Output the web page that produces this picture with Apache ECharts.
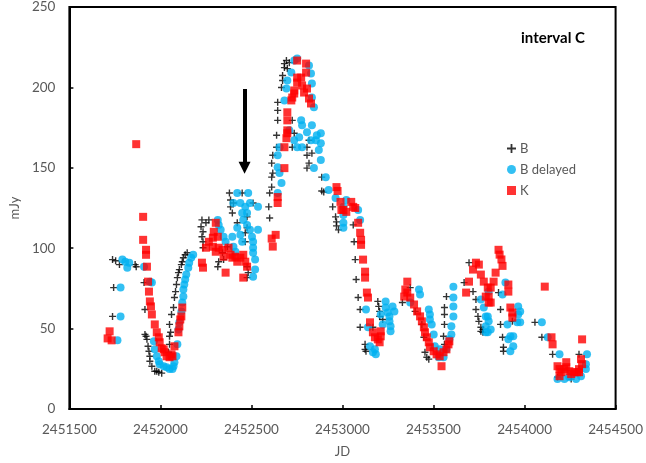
<!DOCTYPE html>
<html>
<head>
<meta charset="utf-8">
<script src="https://cdn.jsdelivr.net/npm/echarts@6/dist/echarts.min.js"></script>
<style>
  html, body { margin: 0; padding: 0; background: #fff; }
  #chart { width: 646px; height: 463px; }
</style>
</head>
<body>
<div id="chart"></div>
<script>
// Light curve, interval C: B band, B band shifted by the lag, and K band (mJy vs Julian Date)
const xTicks = { min: 2451500, max: 2454500, step: 500 };
const yTicks = { min: 0, max: 250, step: 50 };

const seriesNames = ['B', 'B delayed', 'K'];

// B band flux [JD, mJy]
const bData = [
  [2451737,92.9],[2451743,75.5],[2451737,57.6],[2451754,92.2],[2451775,89.8],[2451861,89.8],[2451867,88.5],
  [2451910,78.6],[2451915,61.9],[2451915,46.4],[2451921,45.2],[2451926,43.3],[2451932,39.0],[2451937,35.9],
  [2451942,32.8],[2451942,29.7],[2451953,26.6],[2451969,23.5],[2451980,23.5],[2451991,22.9],[2452007,22.3],
  [2452045,35.3],[2452050,40.2],[2452050,45.2],[2452056,47.7],[2452050,52.6],[2452061,58.8],[2452072,63.1],
  [2452077,69.3],[2452083,73.0],[2452088,77.4],[2452093,81.7],[2452099,84.8],[2452104,86.7],[2452115,89.8],
  [2452120,91.6],[2452126,94.1],[2452136,95.9],[2452147,97.2],
  [2452223,113.3],[2452228,117.6],[2452234,110.2],[2452228,107.1],[2452234,104.0],[2452234,100.3],
  [2452250,115.8],[2452266,117.6],
  [2452315,88.5],[2452320,91.6],[2452341,97.2],[2452347,92.9],[2452368,100.9],
  [2452379,134.3],[2452385,130.0],[2452385,125.7],[2452395,121.9],[2452401,128.1],[2452422,115.8],
  [2452449,134.3],[2452466,109.6],[2452466,104.0],[2452476,88.5],[2452482,84.8],[2452476,81.7],
  [2452509,128.1],[2452476,119.5],[2452476,112.7],
  [2452595,125.7],[2452600,118.8],[2452600,134.3],[2452611,138.0],[2452611,144.2],[2452617,146.7],
  [2452611,152.9],[2452617,157.8],[2452638,162.8],[2452638,170.2],[2452644,179.5],[2452644,185.7],
  [2452644,190.7],[2452665,199.9],[2452671,204.3],[2452671,207.4],[2452681,212.3],[2452681,214.8],
  [2452692,216.7],[2452697,211.7],[2452708,215.4],
  [2452724,179.5],[2452735,171.5],[2452724,162.8],[2452805,162.8],[2452816,167.1],[2452805,157.8],
  [2452816,152.9],[2452805,149.8],[2452832,159.1],[2452886,144.2],[2452897,134.9],[2452886,135.6],
  [2452946,125.7],[2452962,119.5],[2452967,116.4],[2452967,113.9],[2452978,111.4],
  [2453059,114.5],[2453064,104.0],[2453070,92.9],[2453075,80.5],[2453086,69.3],[2453097,61.9],
  [2453097,50.8],[2453124,40.2],[2453124,37.1],[2453129,35.9],
  [2453194,66.9],[2453199,63.8],[2453204,60.7],[2453204,57.6],[2453221,55.7],[2453167,50.8],
  [2453329,66.2],[2453372,75.5],
  [2453399,60.7],[2453436,52.6],[2453447,44.6],[2453453,35.3],[2453463,32.2],[2453474,31.0],
  [2453560,40.2],[2453555,45.2],[2453560,52.6],[2453560,58.8],[2453560,63.1],[2453571,69.9],
  [2453668,78.6],[2453695,91.0],[2453717,73.0],[2453733,68.1],[2453733,61.9],[2453744,57.6],
  [2453749,54.5],[2453760,50.8],[2453760,48.3],[2453771,49.5],[2453771,47.7],
  [2453857,72.4],[2453868,61.9],[2453868,52.6],[2453879,44.6],[2453884,38.4],[2453884,35.9],[2453933,54.5],
  [2454057,53.9],[2454095,44.6],[2454154,34.0],[2454181,19.8],[2454256,18.6],[2454299,34.0],[2454299,24.8]
];

// B band flux shifted by the lag [JD, mJy]
const bDelayedData = [
  [2451764,42.7],[2451781,57.6],[2451781,75.5],[2451791,92.9],[2451807,91.6],[2451818,87.9],[2451829,91.0],
  [2451910,88.5],
  [2451942,79.2],[2451953,78.6],[2451964,42.1],[2451969,37.1],[2451980,32.8],[2451991,29.7],[2451996,27.9],
  [2452018,26.6],[2452034,26.0],[2452050,24.8],[2452066,24.8],[2452072,26.6],[2452077,29.1],[2452088,32.8],
  [2452093,40.2],[2452099,49.5],
  [2452104,53.9],[2452115,60.7],[2452120,66.2],[2452126,69.9],[2452126,74.3],[2452131,77.4],[2452136,80.5],
  [2452142,83.6],[2452153,87.9],[2452158,91.0],[2452169,94.1],[2452180,95.9],
  [2452315,117.6],[2452320,114.5],[2452331,111.4],[2452347,107.1],[2452358,104.0],[2452395,107.1],
  [2452401,100.9],[2452412,97.8],
  [2452422,134.3],[2452482,134.3],[2452439,128.1],[2452466,125.7],[2452449,121.9],[2452476,121.9],
  [2452455,117.6],[2452476,114.5],[2452492,111.4],[2452503,107.1],[2452509,104.0],[2452509,100.3],
  [2452509,97.2],[2452520,92.9],[2452520,86.7],[2452509,82.3],[2452439,108.3],[2452449,104.0],
  [2452422,112.7],[2452401,128.1],[2452492,128.1],[2452536,125.7],[2452536,111.4],
  [2452644,157.8],[2452654,162.8],[2452644,150.4],[2452654,146.7],[2452665,140.5],[2452644,134.3],
  [2452681,191.9],[2452692,199.3],[2452697,204.3],[2452719,209.2],[2452735,216.7],[2452751,217.9],
  [2452816,213.6],[2452827,208.6],[2452832,202.4],[2452832,193.7],[2452843,187.6],[2452773,179.5],
  [2452778,176.4],[2452805,172.1],[2452827,167.1],[2452832,176.4],[2452859,170.2],[2452881,171.5],
  [2452881,165.3],[2452870,161.0],[2452881,154.8],[2452843,149.8],[2452854,167.1],[2452708,173.3],
  [2452735,167.1],[2452751,162.8],[2452778,162.8],[2452762,169.0],[2452908,144.2],[2452924,136.2],
  [2452962,131.2],[2453005,125.7],
  [2453005,120.7],[2453021,130.0],[2453005,115.8],[2453005,112.7],[2453086,123.8],[2453097,117.6],
  [2453129,61.9],[2453140,50.8],[2453151,39.0],[2453167,35.3],[2453183,34.0],[2453178,37.1],
  [2453237,66.9],[2453237,63.1],[2453248,60.0],[2453258,57.6],[2453258,54.5],[2453264,51.4],
  [2453264,48.3],[2453275,63.8],[2453285,60.7],[2453210,58.8],[2453221,52.6],[2453372,66.2],
  [2453420,74.3],[2453426,71.2],[2453474,61.9],[2453480,58.8],[2453480,55.7],[2453490,52.6],
  [2453501,46.4],[2453507,39.0],[2453534,37.1],[2453528,32.2],[2453555,32.2],[2453571,37.1],
  [2453587,43.3],[2453598,46.4],[2453598,51.4],[2453609,57.6],[2453609,63.8],[2453609,69.3],[2453609,76.1],
  [2453760,68.1],[2453776,63.1],[2453787,57.6],[2453787,51.4],[2453798,47.7],[2453803,73.0],
  [2453895,78.6],[2453879,71.2],[2453965,63.8],[2453976,60.7],[2453965,58.8],[2453976,53.9],
  [2453960,53.9],[2453906,52.6],[2453922,45.2],[2453938,45.2],[2453911,43.3],[2453938,39.0],
  [2453922,35.9],[2454095,53.9],[2454127,44.6],[2454192,34.0],[2454181,18.6],[2454219,18.6],
  [2454246,19.8],[2454283,18.6],[2454310,20.4],[2454337,24.8],[2454343,34.0],[2454337,27.9],
  [2453798,57.6],[2453803,54.5],[2453814,49.5],[2453787,47.7]
];

// K band flux [JD, mJy]
const kData = [
  [2451710,43.9],[2451721,48.3],[2451732,42.7],[2451867,164.7],[2451905,119.5],[2451905,105.2],
  [2451921,99.0],[2451921,95.9],[2451926,88.5],[2451932,79.2],[2451937,73.0],[2451942,66.9],
  [2451948,63.8],[2451953,58.8],[2451969,52.6],[2451980,47.7],[2451991,44.6],[2451996,41.5],
  [2452007,37.8],[2452018,37.1],[2452023,35.3],[2452034,32.8],[2452050,32.2],[2452061,34.0],
  [2452066,32.8],[2452077,39.0],[2452099,47.7],[2452104,51.4],[2452109,55.7],[2452115,57.6],[2452120,63.1],
  [2452228,91.0],[2452234,87.9],[2452304,115.8],[2452293,110.2],[2452288,106.5],[2452266,104.0],
  [2452250,100.3],[2452288,100.9],[2452304,97.8],[2452320,100.3],[2452341,99.0],[2452347,94.7],
  [2452374,100.3],[2452385,95.9],[2452395,94.1],[2452412,94.7],[2452422,91.6],[2452439,94.1],
  [2452455,95.9],[2452466,91.6],[2452476,88.5],[2452455,81.7],[2452358,84.8],[2452315,107.1],
  [2452611,106.0],[2452617,101.0],[2452633,108.3],
  [2452644,131.8],[2452644,128.1],[2452681,149.8],[2452681,162.8],[2452697,171.5],[2452692,168.4],
  [2452697,179.5],[2452697,184.5],[2452719,191.9],[2452735,198.1],[2452751,206.1],[2452751,203.0],
  [2452773,206.1],[2452800,209.2],[2452751,216.7],[2452800,214.8],[2452778,201.2],[2452789,196.8],
  [2452805,199.3],[2452816,193.1],[2452827,190.0],[2452735,196.2],[2452724,193.7],[2452697,173.3],
  [2452967,138.0],[2452973,135.6],[2452989,128.8],[2452994,123.8],[2453005,123.8],[2453021,122.6],
  [2453048,128.8],[2453059,125.7],[2453070,125.0],[2453086,115.8],[2453097,109.6],[2453102,105.2],
  [2453102,102.1],[2453113,92.9],[2453124,85.4],[2453124,81.7],[2453134,72.4],[2453140,69.3],
  [2453151,53.9],[2453167,47.7],[2453178,44.6],[2453194,43.3],[2453210,45.2],[2453204,41.5],
  [2453210,48.3],[2453356,79.2],[2453345,74.3],[2453339,69.9],
  [2453356,72.4],[2453372,69.3],[2453393,65.0],[2453410,60.7],[2453426,57.6],[2453436,54.5],
  [2453447,50.8],[2453453,47.7],[2453463,44.6],[2453474,41.5],[2453480,38.4],[2453501,35.9],
  [2453517,34.0],[2453534,32.8],[2453544,26.6],[2453555,35.3],[2453571,37.1],[2453582,40.2],[2453587,42.1],
  [2453679,72.4],[2453695,79.2],[2453717,86.7],[2453733,91.0],[2453749,89.8],[2453760,83.6],
  [2453776,79.2],[2453798,75.5],[2453803,69.9],[2453814,66.2],
  [2453841,84.8],[2453830,79.2],[2453814,75.5],[2453787,69.9],[2453803,66.2],
  [2453857,99.0],[2453863,96.0],[2453873,93.0],[2453879,89.0],
  [2453911,77.4],[2453911,73.0],[2453922,63.1],[2453933,60.0],[2453933,56.9],
  [2454111,76.1],[2454148,44.6],[2454154,40.2],[2454181,26.6],[2454192,24.8],[2454202,22.9],
  [2454219,24.8],[2454229,29.1],[2454229,26.0],[2454246,23.5],[2454256,21.7],[2454273,22.9],
  [2454289,22.9],[2454299,22.9],[2454310,31.0],[2454316,27.9],[2454299,24.8],[2454316,43.3],[2454192,20.4]
];

// Arrow marking the epoch of interest: JD, start flux, tip flux
const arrowMark = { jd: 2452462, from: 199, to: 150 };

const FONT = 'Lato, "Liberation Sans", sans-serif';
const GREY = '#595959';
const PLUS = 'path://M4,0H6V4H10V6H6V10H4V6H0V4H4Z';

const chart = echarts.init(document.getElementById('chart'), null, { renderer: 'canvas' });

chart.setOption({
  animation: false,
  backgroundColor: '#fff',
  textStyle: { fontFamily: FONT },
  title: {
    text: 'interval C',
    left: 516,
    top: 26,
    textStyle: { fontFamily: FONT, fontSize: 15, fontWeight: 'bold', color: '#000' }
  },
  legend: {
    orient: 'vertical',
    left: 502,
    top: 137,
    itemWidth: 9,
    itemHeight: 9,
    itemGap: 8,
    data: seriesNames,
    textStyle: { fontFamily: FONT, fontSize: 13, color: GREY, padding: [0, 0, 0, -1] }
  },
  grid: {
    left: 61, top: 6, right: 29, bottom: 53,
    show: true, borderColor: '#000', borderWidth: 2, backgroundColor: 'transparent'
  },
  xAxis: {
    type: 'value',
    min: xTicks.min, max: xTicks.max, interval: xTicks.step,
    name: 'JD',
    nameLocation: 'middle',
    nameGap: 36,
    nameTextStyle: { fontFamily: FONT, fontSize: 13, color: GREY },
    axisLine: { show: true, onZero: false, lineStyle: { color: '#000', width: 2 } },
    axisTick: { show: true, inside: true, length: 4, lineStyle: { color: '#000', width: 1.5 } },
    axisLabel: { margin: 14, fontSize: 13.5, color: GREY, formatter: v => String(v) },
    splitLine: { show: false }
  },
  yAxis: {
    type: 'value',
    min: yTicks.min, max: yTicks.max, interval: yTicks.step,
    name: 'mJy',
    nameLocation: 'middle',
    nameGap: 42,
    nameRotate: 90,
    nameTextStyle: { fontFamily: FONT, fontSize: 13, color: GREY },
    axisLine: { show: true, onZero: false, lineStyle: { color: '#000', width: 2 } },
    axisTick: { show: true, inside: true, length: 4, lineStyle: { color: '#000', width: 1.5 } },
    axisLabel: { margin: 14, fontSize: 13.5, color: GREY },
    splitLine: { show: false }
  },
  series: [
    {
      name: 'B', type: 'scatter', data: bData,
      symbol: PLUS, symbolSize: 7,
      itemStyle: { color: '#000' }, z: 2
    },
    {
      name: 'B delayed', type: 'scatter', data: bDelayedData,
      symbol: 'circle', symbolSize: 8,
      itemStyle: { color: '#00B0F0' }, z: 3
    },
    {
      name: 'K', type: 'scatter', data: kData,
      symbol: 'rect', symbolSize: 8,
      itemStyle: { color: '#FF0000' }, z: 4,
      markLine: {
        silent: true,
        symbol: ['none', 'triangle'],
        symbolSize: [12, 12],
        label: { show: false },
        lineStyle: { color: '#000', width: 4, type: 'solid' },
        data: [[
          { coord: [arrowMark.jd, arrowMark.from] },
          { coord: [arrowMark.jd, arrowMark.to] }
        ]]
      }
    }
  ]
});
</script>
</body>
</html>
